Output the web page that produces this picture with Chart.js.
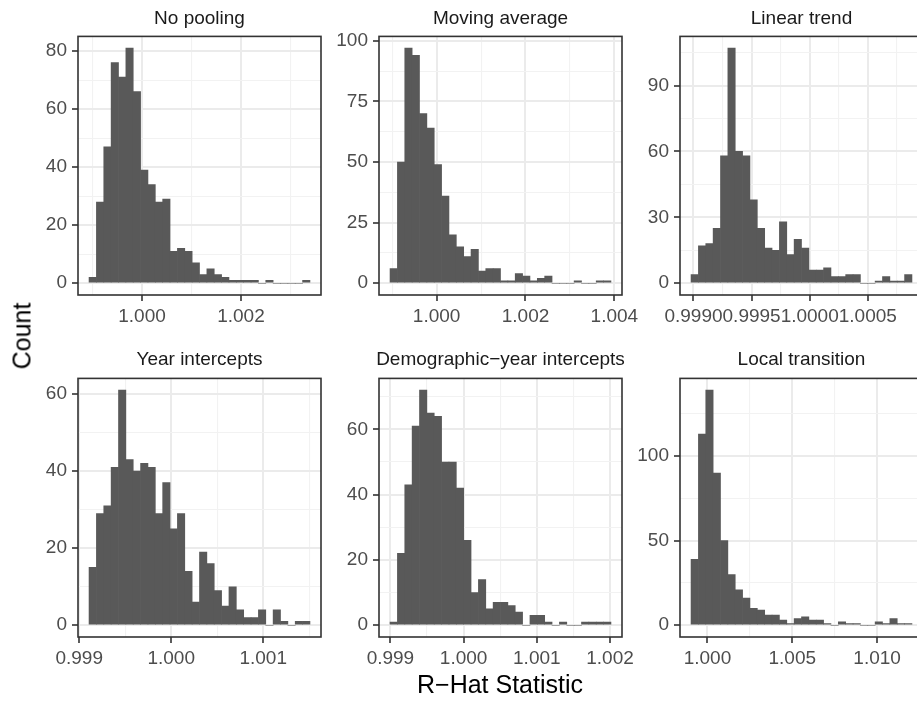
<!DOCTYPE html>
<html>
<head>
<meta charset="utf-8">
<script src="https://cdn.jsdelivr.net/npm/chart.js@4.4.0/dist/chart.umd.min.js"></script>
<style>
  html, body { margin: 0; padding: 0; background: #fff; overflow: hidden; }
  body { width: 917px; height: 701px; position: relative; font-family: "Liberation Sans", Arial, sans-serif; }
  canvas { position: absolute; }
  .strip { position: absolute; font-size: 19px; line-height: 19px; color: #1a1a1a; text-align: center; white-space: nowrap; transform: translateX(-50%); }
  .axis-title { position: absolute; font-size: 25px; line-height: 25px; color: #000; white-space: nowrap; }
</style>
</head>
<body>
<script>
// bin counts (30 bins per panel)
const noPooling     = [2, 28, 47, 76, 71, 81, 66, 39, 34, 28, 29, 11, 12, 11, 7, 3, 5, 3, 2, 1, 1, 1, 1, 0, 1, 0, 0, 0, 0, 1];
const movingAverage = [6, 50, 97, 94, 70, 64, 49, 36, 20, 15, 11, 14, 5, 6, 6, 1, 1, 4, 3, 1, 2, 3, 0, 0, 0, 1, 0, 0, 1, 1];
const linearTrend   = [4, 17, 18, 25, 58, 107, 60, 58, 38, 25, 16, 15, 28, 13, 20, 16, 6, 6, 7, 3, 3, 4, 4, 0, 0, 1, 3, 1, 1, 4];
const yearIntercepts = [15, 29, 31, 41, 61, 43, 40, 42, 41, 29, 37, 25, 29, 14, 6, 19, 16, 9, 5, 10, 4, 2, 2, 4, 0, 4, 1, 0, 1, 1];
const demoYearIntercepts = [1, 22, 43, 61, 72, 65, 64, 50, 50, 42, 26, 10, 14, 5, 7, 7, 6, 4, 0, 3, 3, 1, 0, 1, 0, 0, 1, 1, 1, 1];
const localTransition = [39, 113, 139, 90, 50, 30, 21, 16, 10, 9, 6, 6, 3, 1, 4, 5, 3, 3, 1, 0, 2, 1, 1, 0, 0, 2, 1, 4, 1, 1];

// left edge of the first bin and bin width for each panel
const binStarts = [0.99893, 0.998952, 0.998979, 0.999107, 0.998995, 0.999033];
const binWidths = [0.0001488, 0.0001657, 0.00006337, 0.00008003, 0.0001006, 0.000434];

const stripTitles = ['No pooling', 'Moving average', 'Linear trend',
                     'Year intercepts', 'Demographic\u2212year intercepts', 'Local transition'];

const xTickLabels = [
  ['1.000', '1.002'],
  ['1.000', '1.002', '1.004'],
  ['0.9990', '0.9995', '1.0000', '1.0005'],
  ['0.999', '1.000', '1.001'],
  ['0.999', '1.000', '1.001', '1.002'],
  ['1.000', '1.005', '1.010']
];
const yTickLabels = [
  ['0', '20', '40', '60', '80'],
  ['0', '25', '50', '75', '100'],
  ['0', '30', '60', '90'],
  ['0', '20', '40', '60'],
  ['0', '20', '40', '60'],
  ['0', '50', '100']
];

const allCounts = [noPooling, movingAverage, linearTrend, yearIntercepts, demoYearIntercepts, localTransition];

// layout of the facet grid
const colLeft = [78, 379, 680];
const rowTop = [36, 378];
const plotW = 243, plotH = 259;
const padL = 70, padT = 16, padR = 40, padB = 50;

Chart.defaults.font.family = '"Liberation Sans", Arial, sans-serif';

const panelBorder = {
  id: 'panelBorder',
  afterDatasetsDraw(chart) {
    const { ctx, chartArea: a } = chart;
    ctx.save();
    ctx.strokeStyle = '#333333';
    ctx.lineWidth = 1.6;
    ctx.strokeRect(a.left, a.top, a.right - a.left, a.bottom - a.top);
    ctx.restore();
  }
};

// major ticks from the labels, minor ticks halfway between (and one beyond each end)
function buildTicks(labels, min, max) {
  const vals = labels.map(Number);
  const step = vals[1] - vals[0];
  const out = [];
  const add = (v, lbl) => { if (v >= min && v <= max) out.push({ value: v, isMajor: !!lbl, lbl: lbl || '' }); };
  add(vals[0] - step / 2);
  vals.forEach((v, i) => {
    add(v, labels[i]);
    add(v + step / 2);
  });
  return out.sort((a, b) => a.value - b.value);
}

function axisCommon(labels, min, max) {
  return {
    type: 'linear',
    min: min,
    max: max,
    offset: false,
    border: { display: false },
    afterBuildTicks: (scale) => { scale.ticks = buildTicks(labels, min, max); },
    grid: {
      offset: false,
      color: (c) => (c.tick && c.tick.isMajor) ? '#EBEBEB' : '#F2F2F2',
      lineWidth: (c) => (c.tick && c.tick.isMajor) ? 2 : 1.1,
      drawTicks: true,
      tickLength: 6,
      tickColor: (c) => (c.tick && c.tick.isMajor) ? '#333333' : 'rgba(0,0,0,0)',
      tickWidth: 1.6
    },
    ticks: {
      autoSkip: false,
      maxRotation: 0,
      minRotation: 0,
      color: '#4D4D4D',
      font: { size: 19 },
      callback: (v, i, ticks) => ticks[i].lbl
    }
  };
}

for (let p = 0; p < 6; p++) {
  const counts = allCounts[p];
  const start = binStarts[p], w = binWidths[p];
  const n = counts.length;
  const xMin = start - 0.05 * n * w;
  const xMax = start + n * w + 0.05 * n * w;
  const yTop = Math.max(...counts);
  const yMin = -0.05 * yTop, yMax = 1.05 * yTop;

  const col = p % 3, row = Math.floor(p / 3);
  const canvas = document.createElement('canvas');
  canvas.width = padL + plotW + padR;
  canvas.height = padT + plotH + padB;
  canvas.style.left = (colLeft[col] - padL) + 'px';
  canvas.style.top = (rowTop[row] - padT) + 'px';
  document.body.appendChild(canvas);

  const xAxis = axisCommon(xTickLabels[p], xMin, xMax);
  xAxis.ticks.padding = 4;
  xAxis.afterFit = (s) => { s.height = padB; };
  const yAxis = axisCommon(yTickLabels[p], yMin, yMax);
  yAxis.ticks.padding = 5;
  yAxis.afterFit = (s) => { s.width = padL; };

  new Chart(canvas, {
    type: 'bar',
    data: {
      datasets: [{
        data: counts.map((c, i) => ({ x: start + (i + 0.5) * w, y: c })),
        backgroundColor: '#595959',
        borderWidth: 0,
        barPercentage: 1,
        categoryPercentage: 1
      }]
    },
    options: {
      responsive: false,
      animation: false,
      devicePixelRatio: 1,
      layout: { padding: { left: 0, top: padT, right: padR, bottom: 0 } },
      plugins: { legend: { display: false }, tooltip: { enabled: false } },
      scales: { x: xAxis, y: yAxis }
    },
    plugins: [panelBorder]
  });

  const strip = document.createElement('div');
  strip.className = 'strip';
  strip.textContent = stripTitles[p];
  strip.style.left = (colLeft[col] + plotW / 2) + 'px';
  strip.style.top = (row === 0 ? 8 : 349) + 'px';
  document.body.appendChild(strip);
}

const xTitle = document.createElement('div');
xTitle.className = 'axis-title';
xTitle.textContent = 'R\u2212Hat Statistic';
xTitle.style.left = '500px';
xTitle.style.top = '672px';
xTitle.style.transform = 'translateX(-50%)';
document.body.appendChild(xTitle);

const yTitle = document.createElement('div');
yTitle.className = 'axis-title';
yTitle.textContent = 'Count';
yTitle.style.left = '22px';
yTitle.style.top = '336px';
yTitle.style.transform = 'translate(-50%, -50%) rotate(-90deg)';
document.body.appendChild(yTitle);
</script>
</body>
</html>
